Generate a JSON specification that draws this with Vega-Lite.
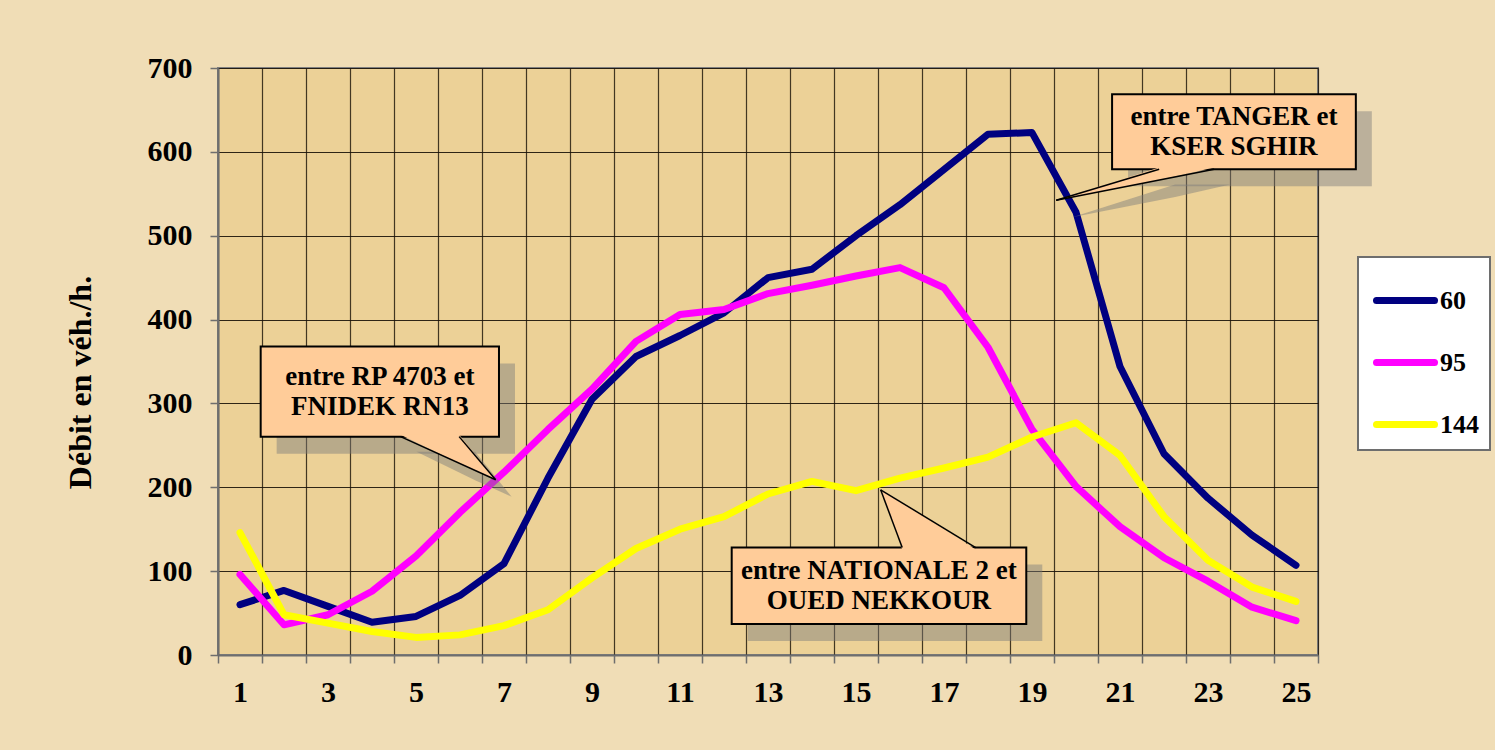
{
  "$schema": "https://vega.github.io/schema/vega-lite/v6.json",
  "autosize": "none",
  "width": 1100,
  "height": 587,
  "padding": {"left": 218, "top": 68, "right": 177, "bottom": 95},
  "background": "#F0DDB6",
  "config": {
    "font": "Liberation Serif",
    "view": {"fill": "#ECD197", "stroke": "#808080", "strokeWidth": 2},
    "axis": {
      "labelFont": "Liberation Serif", "labelFontWeight": "bold", "labelFontSize": 30, "labelColor": "#000000",
      "titleFont": "Liberation Serif", "titleFontWeight": "bold", "titleFontSize": 32, "titleColor": "#000000",
      "domainColor": "#6e6e6e", "domainWidth": 2, "tickColor": "#6e6e6e", "tickWidth": 1.5, "tickSize": 8,
      "gridColor": "#1a1208", "gridWidth": 1.2, "gridOpacity": 0.9
    }
  },
  "datasets": {
    "series": [
      {"x": 1, "s": "60", "y": 60}, {"x": 2, "s": "60", "y": 77}, {"x": 3, "s": "60", "y": 58}, {"x": 4, "s": "60", "y": 39}, {"x": 5, "s": "60", "y": 46},
      {"x": 6, "s": "60", "y": 71}, {"x": 7, "s": "60", "y": 109}, {"x": 8, "s": "60", "y": 211}, {"x": 9, "s": "60", "y": 305}, {"x": 10, "s": "60", "y": 356},
      {"x": 11, "s": "60", "y": 381}, {"x": 12, "s": "60", "y": 408}, {"x": 13, "s": "60", "y": 450}, {"x": 14, "s": "60", "y": 460}, {"x": 15, "s": "60", "y": 500},
      {"x": 16, "s": "60", "y": 537}, {"x": 17, "s": "60", "y": 579}, {"x": 18, "s": "60", "y": 621}, {"x": 19, "s": "60", "y": 623}, {"x": 20, "s": "60", "y": 528},
      {"x": 21, "s": "60", "y": 344}, {"x": 22, "s": "60", "y": 240}, {"x": 23, "s": "60", "y": 187}, {"x": 24, "s": "60", "y": 143}, {"x": 25, "s": "60", "y": 107},
      {"x": 1, "s": "95", "y": 96}, {"x": 2, "s": "95", "y": 36}, {"x": 3, "s": "95", "y": 48}, {"x": 4, "s": "95", "y": 76}, {"x": 5, "s": "95", "y": 118},
      {"x": 6, "s": "95", "y": 170}, {"x": 7, "s": "95", "y": 218}, {"x": 8, "s": "95", "y": 269}, {"x": 9, "s": "95", "y": 317}, {"x": 10, "s": "95", "y": 374},
      {"x": 11, "s": "95", "y": 406}, {"x": 12, "s": "95", "y": 412}, {"x": 13, "s": "95", "y": 431}, {"x": 14, "s": "95", "y": 441}, {"x": 15, "s": "95", "y": 452},
      {"x": 16, "s": "95", "y": 462}, {"x": 17, "s": "95", "y": 438}, {"x": 18, "s": "95", "y": 367}, {"x": 19, "s": "95", "y": 269}, {"x": 20, "s": "95", "y": 201},
      {"x": 21, "s": "95", "y": 153}, {"x": 22, "s": "95", "y": 116}, {"x": 23, "s": "95", "y": 88}, {"x": 24, "s": "95", "y": 57}, {"x": 25, "s": "95", "y": 41},
      {"x": 1, "s": "144", "y": 146}, {"x": 2, "s": "144", "y": 48}, {"x": 3, "s": "144", "y": 38}, {"x": 4, "s": "144", "y": 28}, {"x": 5, "s": "144", "y": 21},
      {"x": 6, "s": "144", "y": 24}, {"x": 7, "s": "144", "y": 35}, {"x": 8, "s": "144", "y": 54}, {"x": 9, "s": "144", "y": 92}, {"x": 10, "s": "144", "y": 127},
      {"x": 11, "s": "144", "y": 150}, {"x": 12, "s": "144", "y": 165}, {"x": 13, "s": "144", "y": 192}, {"x": 14, "s": "144", "y": 207}, {"x": 15, "s": "144", "y": 196},
      {"x": 16, "s": "144", "y": 211}, {"x": 17, "s": "144", "y": 223}, {"x": 18, "s": "144", "y": 236}, {"x": 19, "s": "144", "y": 260}, {"x": 20, "s": "144", "y": 277},
      {"x": 21, "s": "144", "y": 238}, {"x": 22, "s": "144", "y": 165}, {"x": 23, "s": "144", "y": 113}, {"x": 24, "s": "144", "y": 81}, {"x": 25, "s": "144", "y": 64}
    ],
    "boxes": [
      {"x": 20.82, "x2": 26.36, "y": 668.7, "y2": 579.2},
      {"x": 1.47, "x2": 6.886, "y": 367.9, "y2": 260.4},
      {"x": 12.175, "x2": 18.87, "y": 128.1, "y2": 37.0}
    ],
    "pointers": [
      {"p": "1", "x": 19.55, "y": 542.2, "y2": 542.2}, {"p": "1", "x": 21.89, "y": 581.4, "y2": 566.3}, {"p": "1", "x": 23.14, "y": 581.4, "y2": 581.4},
      {"p": "2", "x": 4.65, "y": 262.6, "y2": 262.6}, {"p": "2", "x": 5.98, "y": 262.6, "y2": 228.7}, {"p": "2", "x": 6.81, "y": 209, "y2": 209},
      {"p": "3", "x": 15.56, "y": 197, "y2": 197}, {"p": "3", "x": 16.05, "y": 125.9, "y2": 181.4}, {"p": "3", "x": 17.72, "y": 125.9, "y2": 125.9}
    ],
    "outlines": [
      {"p": "1a", "o": 0, "x": 21.89, "y": 579.2}, {"p": "1a", "o": 1, "x": 19.55, "y": 542.2},
      {"p": "1b", "o": 0, "x": 23.14, "y": 579.2}, {"p": "1b", "o": 1, "x": 19.55, "y": 542.2},
      {"p": "2a", "o": 0, "x": 4.65, "y": 260.4}, {"p": "2a", "o": 1, "x": 6.81, "y": 209},
      {"p": "2b", "o": 0, "x": 5.98, "y": 260.4}, {"p": "2b", "o": 1, "x": 6.81, "y": 209},
      {"p": "3a", "o": 0, "x": 16.05, "y": 128.1}, {"p": "3a", "o": 1, "x": 15.56, "y": 197},
      {"p": "3b", "o": 0, "x": 17.72, "y": 128.1}, {"p": "3b", "o": 1, "x": 15.56, "y": 197}
    ],
    "labels": [
      {"x": 23.59, "y": 624, "label": "entre TANGER et\nKSER SGHIR"},
      {"x": 4.18, "y": 313.7, "label": "entre RP 4703 et\nFNIDEK RN13"},
      {"x": 15.52, "y": 82.5, "label": "entre NATIONALE 2 et\nOUED NEKKOUR"}
    ]
  },
  "encoding": {
    "x": {
      "field": "x", "type": "quantitative",
      "scale": {"domain": [0.5, 25.5], "nice": false, "zero": false},
      "axis": {
        "title": null,
        "values": [0.5, 1, 1.5, 2, 2.5, 3, 3.5, 4, 4.5, 5, 5.5, 6, 6.5, 7, 7.5, 8, 8.5, 9, 9.5, 10, 10.5, 11, 11.5, 12, 12.5, 13, 13.5, 14, 14.5, 15, 15.5, 16, 16.5, 17, 17.5, 18, 18.5, 19, 19.5, 20, 20.5, 21, 21.5, 22, 22.5, 23, 23.5, 24, 24.5, 25, 25.5],
        "labelExpr": "datum.value % 2 == 1 ? format(datum.value, 'd') : ''",
        "labelOverlap": false, "labelBound": false, "labelFlush": false,
        "labelPadding": 14,
        "tickOpacity": {"condition": {"test": "datum.value % 1 == 0", "value": 0}, "value": 1},
        "gridOpacity": {"condition": {"test": "datum.value % 1 == 0", "value": 0}, "value": 0.9}
      }
    },
    "y": {
      "field": "y", "type": "quantitative",
      "scale": {"domain": [0, 700], "nice": false},
      "axis": {
        "title": "Débit en véh./h.",
        "values": [0, 100, 200, 300, 400, 500, 600, 700],
        "labelPadding": 18, "titlePadding": 50, "titleY": 314
      }
    }
  },
  "layer": [
    {
      "data": {"name": "series"},
      "mark": {"type": "line", "strokeWidth": 7, "strokeCap": "round", "strokeJoin": "round"},
      "encoding": {
        "color": {
          "field": "s", "type": "nominal",
          "scale": {"domain": ["60", "95", "144"], "range": ["#000080", "#FF00FF", "#FFFF00"]},
          "legend": {
            "title": null, "orient": "none", "legendX": 1140, "legendY": 189,
            "fillColor": "#FFFFFF", "strokeColor": "#6e6e6e", "padding": 11,
            "symbolType": "stroke", "symbolSize": 3364, "symbolStrokeWidth": 7, "symbolOffset": 4,
            "labelFont": "Liberation Serif", "labelFontWeight": "bold", "labelFontSize": 26, "labelColor": "#000000",
            "labelOffset": 2, "rowPadding": 15,
            "encode": {"symbols": {"update": {"strokeCap": {"value": "round"}}}, "legend": {"update": {"strokeWidth": {"value": 2}}}}
          }
        }
      }
    },
    {
      "data": {"name": "boxes"},
      "mark": {"type": "rect", "fill": "#7a7a7a", "opacity": 0.45, "xOffset": 16, "x2Offset": 16, "yOffset": 17, "y2Offset": 17},
      "encoding": {"x2": {"field": "x2"}, "y2": {"field": "y2"}}
    },
    {
      "data": {"name": "pointers"},
      "mark": {"type": "area", "fill": "#7a7a7a", "opacity": 0.45, "xOffset": 16, "yOffset": 17, "y2Offset": 17},
      "encoding": {"y2": {"field": "y2"}, "detail": {"field": "p"}}
    },
    {
      "data": {"name": "boxes"},
      "mark": {"type": "rect", "fill": "#FFCC99", "stroke": "#000000", "strokeWidth": 2},
      "encoding": {"x2": {"field": "x2"}, "y2": {"field": "y2"}}
    },
    {
      "data": {"name": "pointers"},
      "mark": {"type": "area", "fill": "#FFCC99", "opacity": 1},
      "encoding": {"y2": {"field": "y2"}, "detail": {"field": "p"}}
    },
    {
      "data": {"name": "outlines"},
      "mark": {"type": "line", "stroke": "#000000", "strokeWidth": 1.5},
      "encoding": {"detail": {"field": "p"}, "order": {"field": "o"}}
    },
    {
      "data": {"name": "labels"},
      "mark": {"type": "text", "font": "Liberation Serif", "fontWeight": "bold", "fontSize": 27, "lineHeight": 30, "lineBreak": "\n", "align": "center", "baseline": "middle", "dy": -15, "color": "#000000"},
      "encoding": {"text": {"field": "label"}}
    }
  ]
}
